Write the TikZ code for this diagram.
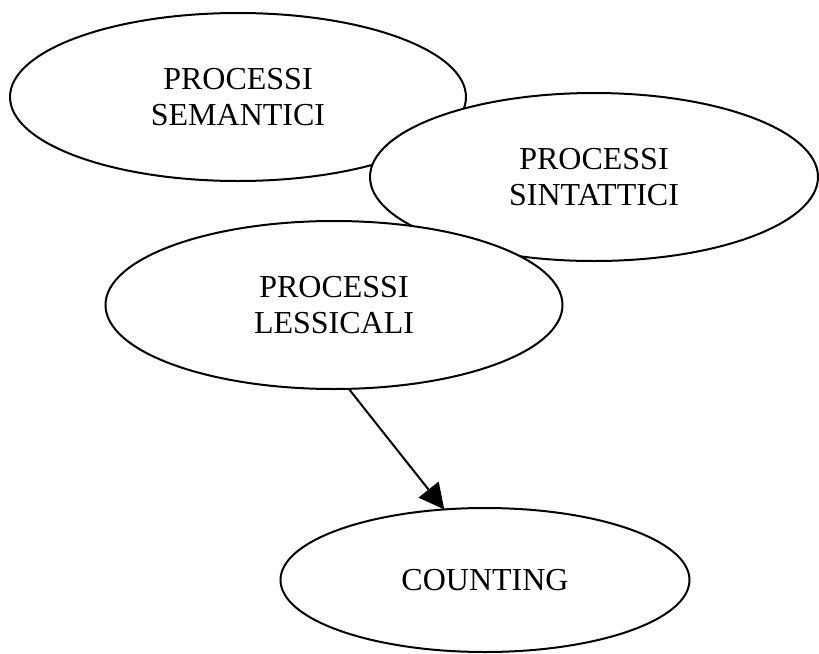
\documentclass[tikz,border=0pt]{standalone}
\usepackage{fontspec}
\setmainfont{Liberation Serif}
\usetikzlibrary{shapes.geometric,arrows.meta}
\begin{document}
\begin{tikzpicture}[x=0.75pt,y=-0.75pt,
  bubble/.style={ellipse, draw, fill=white, line width=1.5pt, inner sep=0pt, outer sep=0pt,
    align=center, font=\fontsize{24}{27}\selectfont},
  link/.style={line width=1.5pt, -{Triangle[length=19pt,width=19pt]}}]
\useasboundingbox (0,0) rectangle (819,654);
\node[bubble, minimum width=342pt, minimum height=126pt] (sem) at (238,97) {PROCESSI\\SEMANTICI};
\node[bubble, minimum width=336pt, minimum height=126pt] (sin) at (594,177) {PROCESSI\\SINTATTICI};
\node[bubble, minimum width=342.75pt, minimum height=126pt] (les) at (334,305) {PROCESSI\\LESSICALI};
\node[bubble, minimum width=306.75pt, minimum height=108pt] (cnt) at (485,580) {COUNTING};
\draw[link] (les.-80.6) -- (cnt.120.3);
\end{tikzpicture}
\end{document}
